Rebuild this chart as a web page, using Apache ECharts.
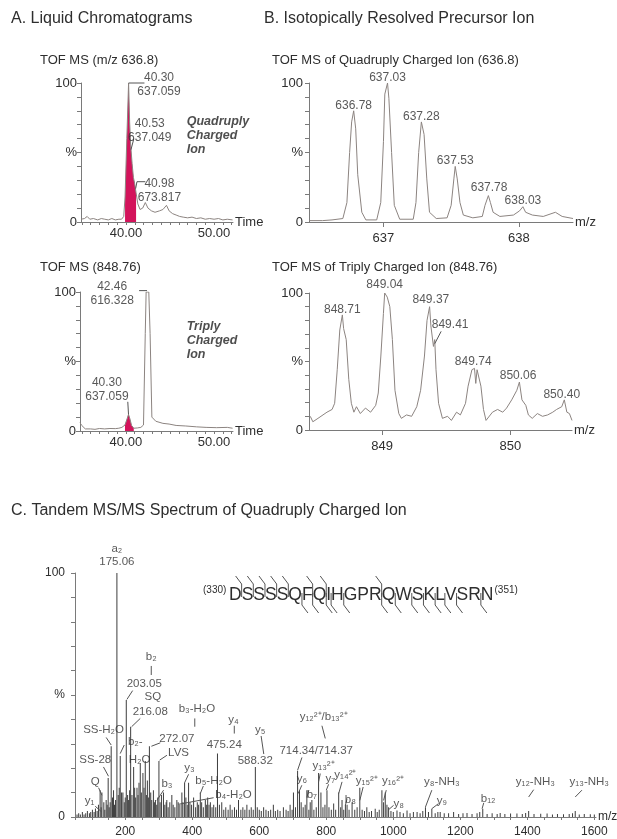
<!DOCTYPE html>
<html>
<head>
<meta charset="utf-8">
<script src="https://cdn.jsdelivr.net/npm/echarts@6/dist/echarts.min.js"></script>
<style>
  html, body { margin: 0; padding: 0; background: #fff; }
  #main { width: 617px; height: 839px; }
</style>
</head>
<body>
<div id="main"></div>
<script>
// ---- data ----
// A. chromatograms, [retention time (min), relative intensity %]
var ticQuad = [[34.9,2],[35.3,2.5],[35.6,4],[35.9,2],[36.3,2.5],[36.8,1.5],[37.2,2.5],[37.6,2],[38.0,1.5],[38.4,2.5],
  [38.8,1.5],[39.2,2],[39.5,2],[39.75,4],[39.9,18],[40.1,60],[40.3,100],[40.42,72],[40.53,56],[40.7,42],[40.85,32],
  [40.98,28],[41.15,21],[41.35,13],[41.6,9],[41.9,10],[42.2,14],[42.5,10],[42.9,8],[43.3,7],[43.8,8],[44.2,9],
  [44.6,12],[44.9,8],[45.3,6],[45.7,5],[46.1,4],[46.5,3.5],[47.0,3],[47.5,3.5],[48.0,2.5],[48.5,3],[49.0,2],
  [49.5,2.5],[50.0,2],[50.5,2.5],[51.0,1.5],[51.5,2],[52.1,1.5]];
var quadFill = [39.85, 41.2];
var ticTriply = [[34.8,6],[35.0,4],[35.4,1.5],[36.0,1.5],[36.5,1.2],[37.0,1.8],[37.6,1.5],[38.2,1.8],[38.8,1.7],
  [39.2,2],[39.55,2.6],[39.9,4.3],[40.15,9],[40.3,12],[40.45,9],[40.65,4],[40.9,2],[41.3,2.2],[41.7,2.6],[42.0,4.3],
  [42.2,70],[42.3,100],[42.6,100],[42.75,70],[42.95,10],[43.4,7],[44.2,5.5],[44.9,5],[45.7,4],[46.8,3.6],[48.0,3],
  [49.1,2.6],[50.3,2.4],[51.5,2.6],[52.1,2]];
var triplyFill = [39.85, 40.95];

// B. isotope envelopes, [m/z, %]
var isoQuad = [[636.45,1],[636.55,1],[636.62,1.5],[636.70,2.5],[636.73,14],[636.75,50],[636.765,72],[636.78,80],
  [636.795,67],[636.81,34],[636.84,7],[636.87,1.5],[636.95,1.5],[636.98,14],[637.00,58],[637.01,92],[637.03,100],
  [637.04,89],[637.06,50],[637.08,12],[637.12,2],[637.22,2],[637.24,14],[637.26,50],[637.28,72],[637.30,63],
  [637.32,31],[637.34,7],[637.39,2.5],[637.47,3],[637.50,12],[637.52,31],[637.53,40],[637.545,31],[637.565,14],
  [637.59,5],[637.66,3],[637.73,4],[637.75,12],[637.775,19],[637.79,14],[637.81,7],[637.86,4],[637.96,5],
  [638.005,8],[638.03,11],[638.05,7],[638.10,5],[638.18,4],[638.27,7],[638.32,4],[638.40,2.5]];
var isoTriply = [[848.44,10],[848.46,6],[848.50,8.5],[848.57,13],[848.61,15],[848.63,19.5],[848.65,44],[848.67,73],
  [848.69,84],[848.70,74],[848.72,66],[848.74,37],[848.76,19.5],[848.78,13],[848.80,17],[848.83,12],[848.87,16],
  [848.91,13],[848.95,18],[848.97,27],[848.99,54],[849.01,85],[849.02,100],[849.04,97],[849.06,90],[849.08,66],
  [849.10,29],[849.13,12],[849.15,8.5],[849.19,11],[849.23,10],[849.27,17],[849.30,29],[849.33,54],[849.35,80],
  [849.37,90],[849.38,76],[849.40,61],[849.41,66],[849.42,44],[849.44,19.5],[849.47,8.5],[849.51,10],[849.54,7],
  [849.58,13],[849.61,11],[849.65,19.5],[849.67,32],[849.70,44],[849.72,45],[849.73,34],[849.74,44],[849.77,32],
  [849.79,15],[849.81,7],[849.86,13],[849.90,15],[849.94,13],[849.97,16],[850.01,22],[850.05,29],[850.07,35],
  [850.09,22],[850.12,18],[850.14,11],[850.17,8.5],[850.21,12],[850.25,10],[850.29,11],[850.33,13],[850.36,15],
  [850.40,17],[850.42,22],[850.44,13],[850.46,12],[850.48,7]];

// C. MS/MS sticks, [m/z, %]
var majorPeaks = [[130.3,10],[149,16],[158,29],[175.06,100],[185,25],[203.05,48],[216.08,37],[225,20.5],[244.8,22],
  [252.7,18],[259.7,23],[272.07,29],[290,7],[300.5,23],[377.1,14],[389,14],[424,10],[446,8],[475.24,26],[588.32,20.5],
  [714.34,19],[720,11],[742,11],[777,18],[802,11],[837,10],[877,6],[900,12],[966,11],[976,10],[986,4],[1096,4],
  [1115,3.4],[1267,3.4],[1404,2.5],[1543,2.5]];
var minorPeaks = [[56,1],[61,1.5],[66,1],[72,2],[77,1],[82,1.5],[87,2.5],[93,1.5],[97,2],[102,3],[107,2],[111,3.5],
  [116,2.5],[120,5],[125,11],[128,4],[136,6],[139,3],[143,7],[146,5],[152,4],[155,6],[162,8],[165,11],[168,5],
  [171,7],[179,9],[182,12],[189,10],[193,10],[197,6],[200,8],[207,9],[210,7],[213,11],[220,9],[228,12],[231,8],
  [235,12],[238,9],[241,14],[248,10],[256,12],[263,9],[266,15],[269,8],[276,10],[279,7],[284,11],[287,6],[294,5],
  [297,8],[304,6],[308,9],[314,10],[318,5],[322,6],[324,7],[328,4],[333,6],[339,9],[343,5],[348,4],[354,7],[358,6],
  [363,5],[369,10],[372,6],[381,8],[385,5],[393,6],[398,5],[404,8],[410,4],[415,6],[419,5],[428,6],[433,4],[439,7],
  [443,5],[450,5],[454,6],[459,4],[464,5],[470,4],[481,5],[488,6],[494,3],[500,4],[507,3],[513,5],[519,3],[526,4],
  [532,3],[538,7],[545,3],[551,4],[557,3],[563,5],[570,3],[576,4],[582,3],[594,4],[600,3],[606,2.5],[613,4],[620,3],
  [627,2.5],[634,3],[642,5],[648,2.5],[655,3],[662,2.5],[672,4],[680,3],[686,2.5],[692,5],[698,3],[702,10],[708,4],
  [725,6],[731,4],[737,5],[748,3],[752,6],[757,7],[763,3],[770,4],[784,10],[790,4],[796,5],[808,4],[815,3],[822,5.5],
  [828,3],[843,4],[847,7],[852,3],[857,5],[862,5],[868,3],[885,3],[892,4],[907,3],[914,2.5],[921,4],[928,2],[935,2.5],
  [946,3.4],[952,2],[958,3],[971,6],[981,5],[993,2.5],[1000,2],[1011,2.7],[1020,2],[1030,1.5],[1041,2.7],[1050,1.5],
  [1060,2],[1071,2],[1080,1.5],[1088,2.5],[1105,2],[1125,1.5],[1133,2],[1140,2],[1152,1.5],[1165,1.5],[1180,2],
  [1195,1.2],[1208,1.5],[1220,1.6],[1235,1.2],[1250,1.5],[1258,2],[1280,1.2],[1295,1.5],[1310,1.2],[1319,1.6],
  [1333,1.2],[1350,1.4],[1369,1.4],[1385,1.2],[1395,1.6],[1420,1.2],[1440,1.3],[1459,1.4],[1475,1],[1490,1.2],
  [1508,1.1],[1525,1.2],[1535,1.5],[1555,1],[1570,1.2],[1588,1.1],[1600,1]];

// peak annotations, [x, y, text]
var quadTicLabels = [[43.75, 99, '40.30\n637.059'], [42.7, 66, '40.53\n637.049'], [43.8, 22.5, '40.98\n673.817']];
var triplyTicLabels = [[38.45, 99, '42.46\n616.328'], [37.85, 29.5, '40.30\n637.059']];
var isoQuadLabels = [[636.78, 84, '636.78'], [637.03, 104, '637.03'], [637.28, 76, '637.28'], [637.53, 44, '637.53'],
  [637.78, 25, '637.78'], [638.03, 15, '638.03']];
var isoTriplyLabels = [[848.69, 88, '848.71'], [849.02, 106, '849.04'], [849.38, 95, '849.37'], [849.53, 77, '849.41'],
  [849.71, 50, '849.74'], [850.06, 40, '850.06'], [850.40, 26, '850.40']];
var msmsLabels = [[175, 110, 'a₂'], [175, 104.5, '175.06'], [277.6, 65.8, 'b₂'], [256.7, 54.5, '203.05'],
  [282.6, 49.3, 'SQ'], [274.6, 43.2, '216.08'], [414, 44.5, 'b₃-H₂O'], [354, 32.2, '272.07'], [523, 40, 'y₄'],
  [495.5, 29.5, '475.24'], [603, 35.9, 'y₅'], [588, 22.9, '588.32'], [135.3, 35.6, 'SS-H₂O'], [110.4, 23.3, 'SS-28'],
  [110.4, 14.4, 'Q'], [93.5, 6.8, 'y₁'], [230, 30.8, 'b₂-'], [242.8, 23.6, 'H₂O'], [359, 26.3, 'LVS'],
  [324.4, 13.4, 'b₃'], [392, 20.3, 'y₃'], [463.7, 15, 'b₅-H₂O'], [523, 8.9, 'b₄-H₂O'], [770, 27.1, '714.34/714.37'],
  [792, 41, 'y₁₂²⁺/b₁₃²⁺'], [727, 15.8, 'y₆'], [757, 9.2, 'b₇'], [792, 20.8, 'y₁₃²⁺'], [812, 15.8, 'y₇'],
  [857, 17.1, 'y₁₄²⁺'], [872, 7.1, 'b₈'], [921, 15, 'y₁₅²⁺'], [999, 14.8, 'y₁₆²⁺'], [1016, 5.5, 'y₈'],
  [1145, 14.4, 'y₈-NH₃'], [1145, 6.8, 'y₉'], [1283, 7.3, 'b₁₂'], [1424, 14.4, 'y₁₂-NH₃'], [1585, 14.4, 'y₁₃-NH₃']];

// leader lines from labels to peaks
var quadTicLeaders = [[[40.3, 100], [42.1, 100]], [[40.57, 52], [40.9, 60]], [[41.1, 24], [41.25, 29], [42.2, 29]]];
var triplyTicLeaders = [[[41.5, 101], [42.4, 101]], [[40.22, 21], [40.3, 12]]];
var isoTriplyLeaders = [[[849.41, 63], [849.46, 72]]];
var msmsLeaders = [[[277.6, 61.9], [277.6, 58.2]], [[222, 51.8], [205, 48.2]], [[244.8, 40.4], [219, 37]],
  [[407.5, 40.4], [407.5, 37]], [[304.5, 30.4], [278, 29]], [[525.4, 37.4], [525.4, 34.2]],
  [[605.5, 33.2], [613.4, 25.8]], [[143, 32.6], [158, 29.5]], [[135, 20.5], [150, 16.7]], [[120.4, 12], [130.3, 8.9]],
  [[110.4, 4.4], [130.3, 2]], [[197, 29.5], [185, 26]], [[324.4, 25.3], [302.5, 23.3]], [[314.4, 11], [294.5, 6.8]],
  [[389, 17.5], [377, 14]], [[433, 12.7], [424, 9.6]], [[463.7, 7.9], [359, 5.2]], [[727.4, 24.4], [714.4, 19.2]],
  [[787, 37.4], [797, 32.2]], [[727, 13], [716, 9.6]], [[748, 11], [742, 8]], [[782, 17.8], [777, 14.4]],
  [[807, 13.4], [800, 11]], [[847, 14.4], [837, 9.6]], [[862, 7.5], [857, 4.8]], [[910, 12.3], [900, 6.8]],
  [[979, 11], [971, 6.8]], [[1001, 4.8], [986, 3]], [[1115, 11], [1096, 4.1]], [[1135, 5.5], [1115, 3.4]],
  [[1270, 5.8], [1265, 3.4]], [[1419, 11.2], [1404, 8.2]], [[1563, 11], [1543, 8.2]]];

// peptide sequence and the cleavages drawn over it (index of residue before the cut)
var peptide = 'DSSSSQFQIHGPRQWSKLVSRN';
var bCuts = [0, 1, 2, 3, 4, 6, 7, 12];
var yCuts = [5, 6, 7, 8, 9, 12, 13, 14, 15, 16, 17, 18, 20];

// axis ticks
var pctTicks = [0, 10, 20, 30, 40, 50, 60, 70, 80, 90, 100];
var timeTicks = [35, 36, 37, 38, 39, 40, 41, 42, 43, 44, 45, 46, 47, 48, 49, 50, 51, 52];
var timeLabels = [40, 50];
var quadMzTicks = [637, 638];
var triplyMzTicks = [849, 850];
var msmsLabelsX = [200, 400, 600, 800, 1000, 1200, 1400, 1600];

// ---- chart ----
var FONT = 'Liberation Sans';
var TXT = '#2e2e2e';
var AXIS = '#7a7a7a';
var TRACE = '#8c8480';
var FILL = '#d3135b';

var chart = echarts.init(document.getElementById('main'));

var msmsTicks = [];
for (var t = 50; t <= 1600; t += 50) msmsTicks.push(t);

var grids = [
  {left: 81, top: 83, width: 152, height: 139},
  {left: 309, top: 83, width: 264, height: 139},
  {left: 80, top: 292, width: 153, height: 139},
  {left: 309, top: 293, width: 263, height: 137},
  {left: 75, top: 573, width: 521, height: 244}
];
grids.forEach(function (g) { g.outerBoundsMode = 'none'; g.containLabel = false; });

function makeX(gi, min, max, ticks, labels, fmt, name, fs, margin) {
  return {
    type: 'value', gridIndex: gi, min: min, max: max,
    name: name, nameLocation: 'end', nameGap: 2,
    nameTextStyle: {color: TXT, fontSize: fs, fontFamily: FONT},
    axisLine: {show: true, onZero: false, lineStyle: {color: AXIS, width: 1}},
    axisTick: {show: true, length: 3, customValues: ticks, lineStyle: {color: AXIS}},
    axisLabel: {show: true, customValues: labels, formatter: fmt, color: TXT, fontSize: fs, fontFamily: FONT, margin: margin},
    splitLine: {show: false}
  };
}
function makeY(gi, fs, margin) {
  return {
    type: 'value', gridIndex: gi, min: 0, max: 100,
    axisLine: {show: true, lineStyle: {color: AXIS, width: 1}},
    axisTick: {show: true, length: 4, customValues: pctTicks, lineStyle: {color: AXIS}},
    axisLabel: {
      show: true, customValues: [0, 50, 100], color: TXT, fontSize: fs, fontFamily: FONT, margin: margin,
      formatter: function (v) { return v === 50 ? '%' : String(v); }
    },
    splitLine: {show: false}
  };
}

function trace(gi, data) {
  return {type: 'line', xAxisIndex: gi, yAxisIndex: gi, data: data, showSymbol: false, silent: true,
    lineStyle: {color: TRACE, width: 1}, z: 3};
}
function filled(gi, data, range) {
  return {type: 'line', xAxisIndex: gi, yAxisIndex: gi, showSymbol: false, silent: true,
    data: data.filter(function (p) { return p[0] >= range[0] && p[0] <= range[1]; }),
    lineStyle: {width: 0}, areaStyle: {color: FILL, opacity: 1}, z: 2};
}
function labels(gi, rows, fs, extra) {
  var label = {show: true, position: 'inside', color: TXT, fontSize: fs, fontFamily: FONT, lineHeight: fs + 2,
    formatter: '{b}'};
  if (extra) for (var k in extra) label[k] = extra[k];
  return {type: 'scatter', xAxisIndex: gi, yAxisIndex: gi, symbolSize: 0, clip: false, silent: true,
    data: rows.map(function (r) { return {value: [r[0], r[1]], name: r[2]}; }),
    label: label, emphasis: {disabled: true}, z: 5};
}
function leaders(gi, rows) {
  return {type: 'lines', coordinateSystem: 'cartesian2d', xAxisIndex: gi, yAxisIndex: gi, polyline: true,
    clip: false, silent: true,
    data: rows.map(function (r) { return {coords: r}; }),
    lineStyle: {color: '#555', width: 1, opacity: 1}, z: 4};
}

var fmtTime = function (v) { return v.toFixed(2); };
var fmtInt = function (v) { return String(v); };

var xAxes = [
  makeX(0, 34.9, 52.15, timeTicks, timeLabels, fmtTime, 'Time', 13, 5),
  makeX(1, 636.45, 638.40, quadMzTicks, quadMzTicks, fmtInt, 'm/z', 13, 10),
  makeX(2, 34.8, 52.15, timeTicks, timeLabels, fmtTime, 'Time', 13, 5),
  makeX(3, 848.43, 850.48, triplyMzTicks, triplyMzTicks, fmtInt, 'm/z', 13, 10),
  makeX(4, 50, 1605, msmsTicks, msmsLabelsX, fmtInt, 'm/z', 12, 9)
];
xAxes[1].axisTick.length = 5;
xAxes[3].axisTick.length = 5;
var yAxes = [makeY(0, 13, 4), makeY(1, 13, 6), makeY(2, 13, 4), makeY(3, 13, 6), makeY(4, 12, 10)];

var chargeStyle = {position: 'right', distance: 0, fontWeight: 'bold', fontStyle: 'italic', lineHeight: 14,
  color: '#222'};

var series = [
  filled(0, ticQuad, quadFill), trace(0, ticQuad),
  labels(0, quadTicLabels, 12), leaders(0, quadTicLeaders),
  labels(0, [[46.9, 62.5, 'Quadruply\nCharged\nIon']], 12.5, chargeStyle),

  trace(1, isoQuad), labels(1, isoQuadLabels, 12),

  filled(2, ticTriply, triplyFill), trace(2, ticTriply),
  labels(2, triplyTicLabels, 12), leaders(2, triplyTicLeaders),
  labels(2, [[46.9, 65, 'Triply\nCharged\nIon']], 12.5, chargeStyle),

  trace(3, isoTriply), labels(3, isoTriplyLabels, 12), leaders(3, isoTriplyLeaders),

  {type: 'bar', xAxisIndex: 4, yAxisIndex: 4, data: majorPeaks.concat(minorPeaks), barWidth: 1, silent: true,
    itemStyle: {color: '#3d3d3d'}, z: 3},
  labels(4, msmsLabels, 11.5), leaders(4, msmsLeaders)
];

// panel titles and the peptide sequence
function txt(x, y, s, size, extra) {
  var style = {text: s, fontSize: size, fontFamily: FONT, fill: TXT, verticalAlign: 'middle'};
  if (extra) for (var k in extra) style[k] = extra[k];
  return {type: 'text', x: x, y: y, style: style, silent: true};
}
var graphics = [
  txt(11, 19, 'A. Liquid Chromatograms', 16),
  txt(264, 19, 'B. Isotopically Resolved Precursor Ion', 16),
  txt(40, 60, 'TOF MS (m/z 636.8)', 13),
  txt(272, 60, 'TOF MS of Quadruply Charged Ion (636.8)', 13),
  txt(40, 267, 'TOF MS (848.76)', 13),
  txt(272, 267, 'TOF MS of Triply Charged Ion (848.76)', 13),
  txt(11, 511, 'C. Tandem MS/MS Spectrum of Quadruply Charged Ion', 16)
];

(function () {
  var size = 17.5, x = 229, mid = 595;
  var ctx = document.createElement('canvas').getContext('2d');
  ctx.font = size + 'px "' + FONT + '"';
  graphics.push(txt(203, 590, '(330)', 10));
  var gaps = [];
  for (var i = 0; i < peptide.length; i++) {
    graphics.push(txt(x, mid, peptide[i], size));
    x += ctx.measureText(peptide[i]).width;
    gaps.push(x);
  }
  graphics.push(txt(x + 1, 590, '(351)', 10));
  bCuts.forEach(function (i) {
    var g = gaps[i];
    graphics.push({type: 'polyline', silent: true, shape: {points: [[g - 6, 576], [g, 584], [g, 597]]},
      style: {stroke: '#555', lineWidth: 1, fill: null}});
  });
  yCuts.forEach(function (i) {
    var g = gaps[i];
    graphics.push({type: 'polyline', silent: true, shape: {points: [[g, 593], [g, 605], [g + 6, 613]]},
      style: {stroke: '#555', lineWidth: 1, fill: null}});
  });
})();

chart.setOption({
  animation: false,
  backgroundColor: '#fff',
  grid: grids,
  xAxis: xAxes,
  yAxis: yAxes,
  series: series,
  graphic: graphics
});
</script>
</body>
</html>
